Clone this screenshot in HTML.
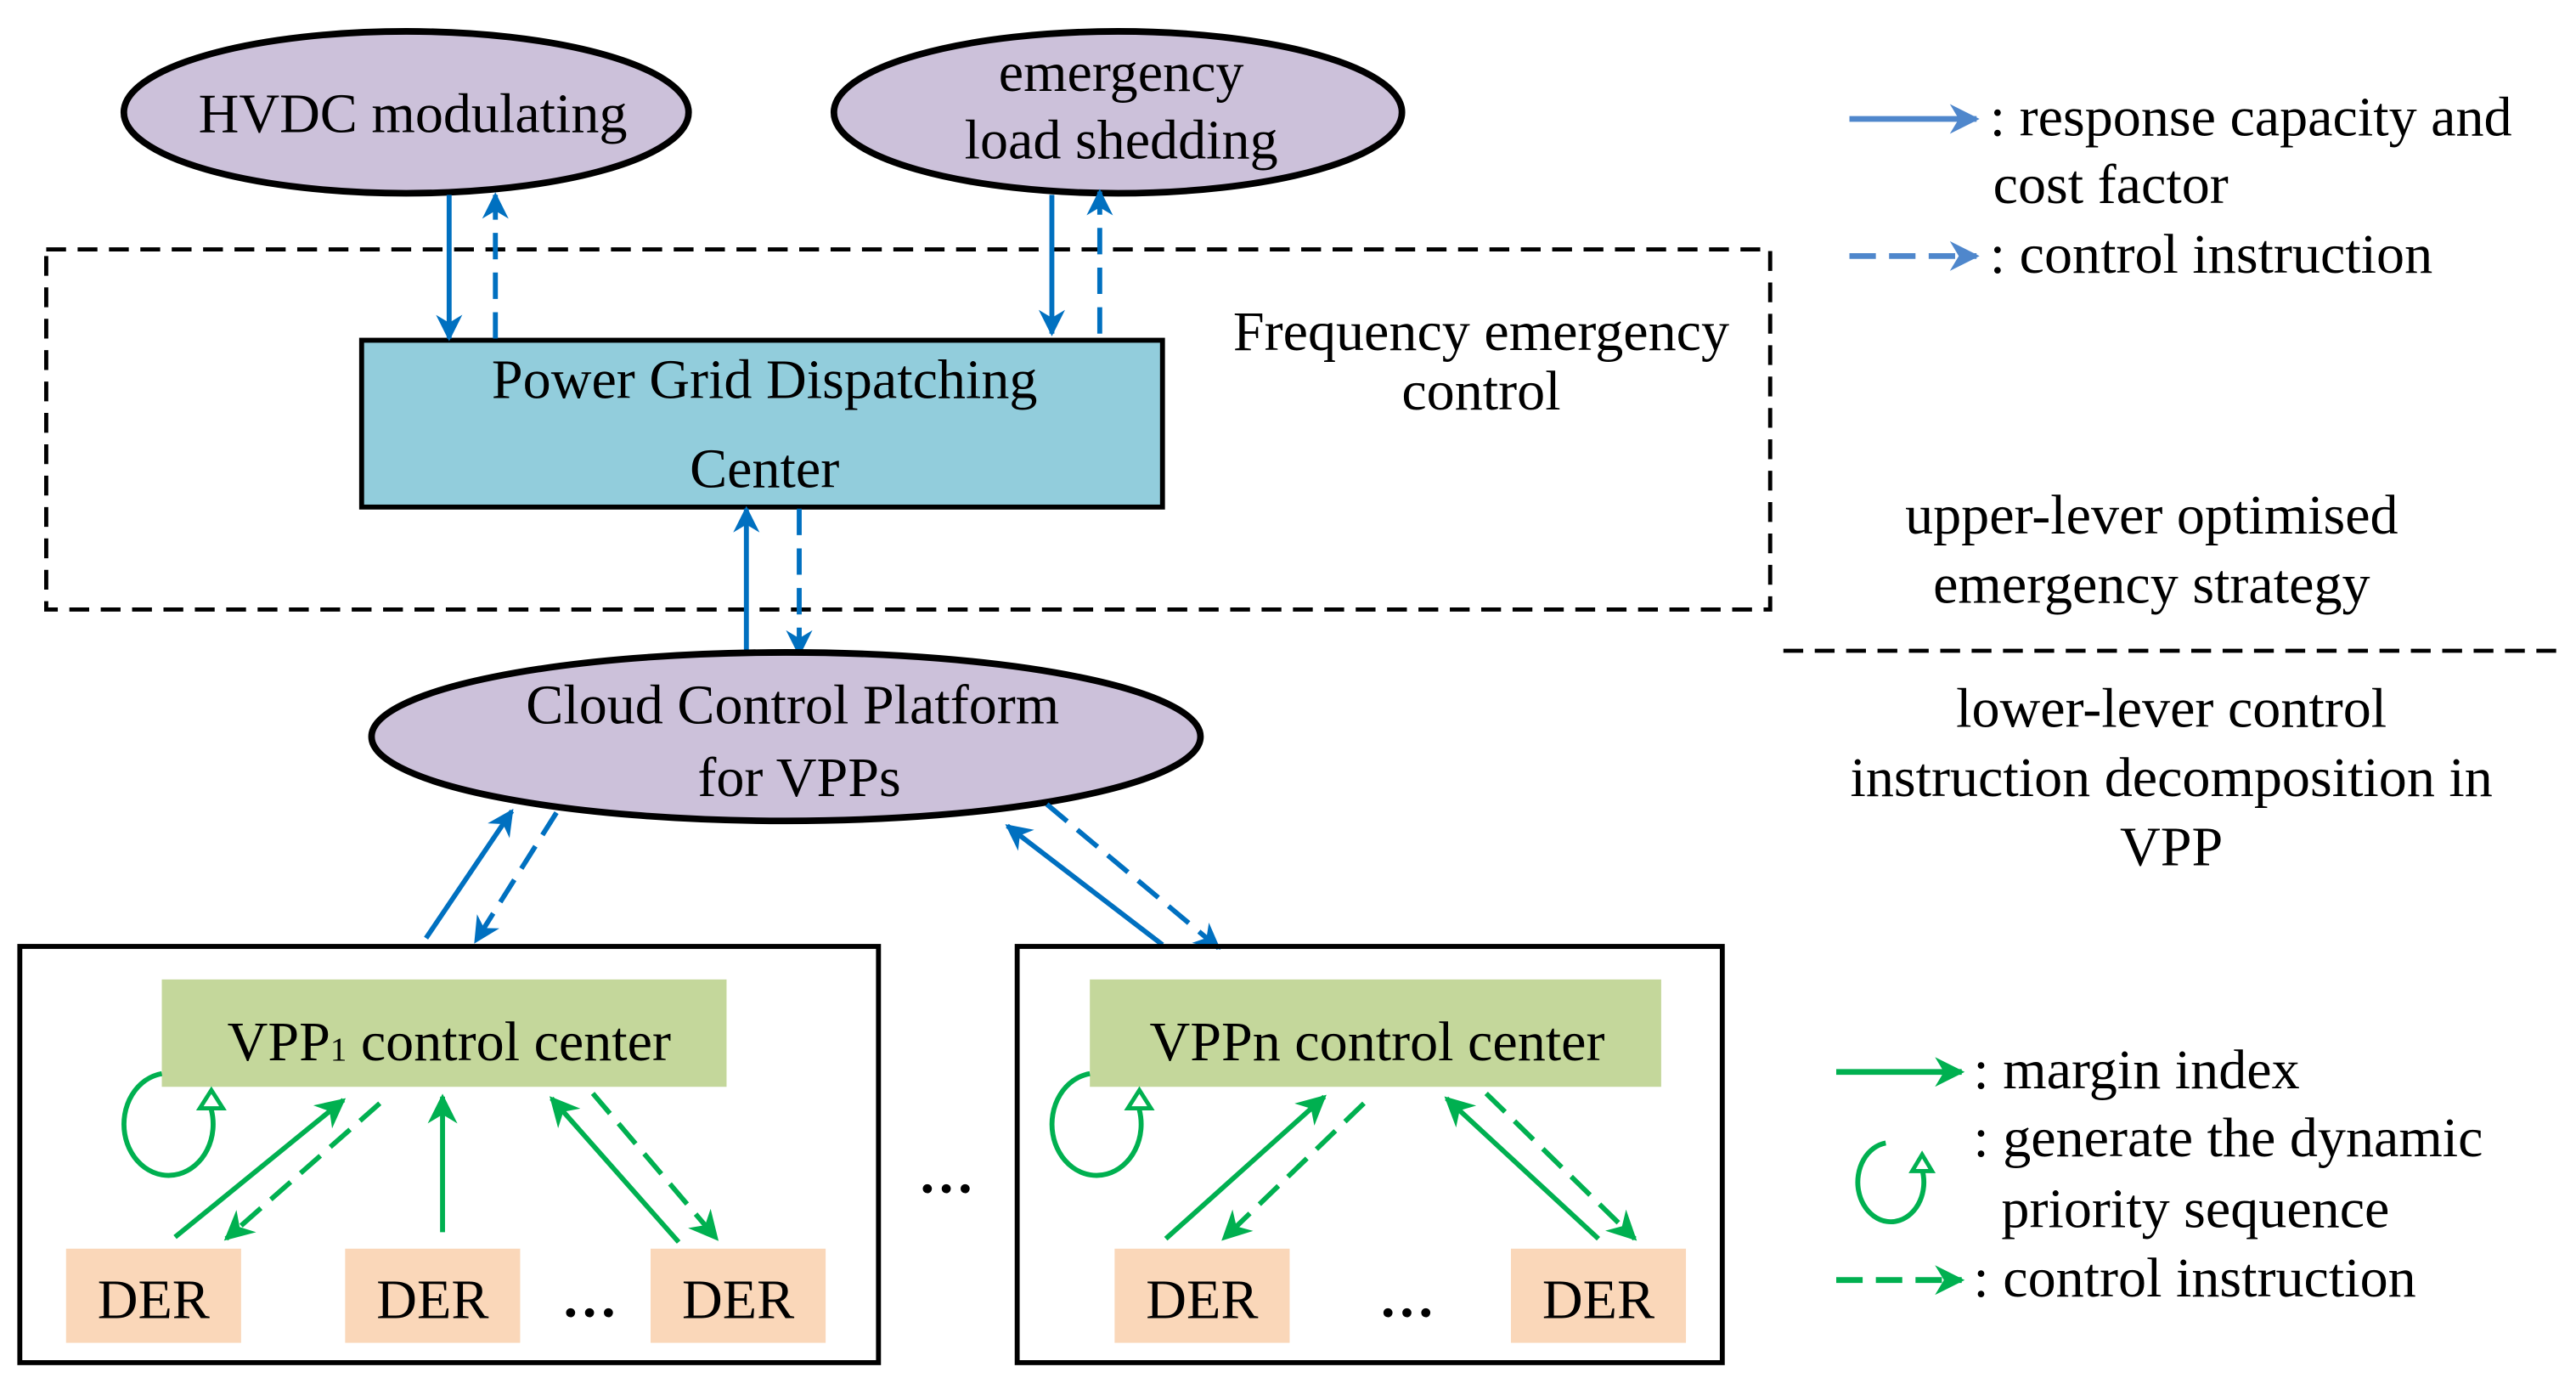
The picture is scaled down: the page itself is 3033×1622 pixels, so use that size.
<!DOCTYPE html>
<html><head><meta charset="utf-8"><style>
html,body{margin:0;padding:0;background:#fff;}
svg{display:block;}
text{font-family:"Liberation Serif",serif;font-size:34px;fill:#000;}
</style></head><body>
<svg width="3033" height="1622" viewBox="0 0 1560 834.3" preserveAspectRatio="none" xmlns="http://www.w3.org/2000/svg">
<defs>
<marker id="bb" viewBox="0 0 10 10" refX="9" refY="5" markerWidth="22" markerHeight="16" orient="auto" markerUnits="userSpaceOnUse"><path d="M0,0 L10,5 L0,10 L3,5 z" fill="#0070c0"/></marker>
<marker id="lb" viewBox="0 0 10 10" refX="9" refY="5" markerWidth="22" markerHeight="18" orient="auto" markerUnits="userSpaceOnUse"><path d="M0,0 L10,5 L0,10 L3,5 z" fill="#4f87cc"/></marker>
<marker id="g" viewBox="0 0 10 10" refX="9" refY="5" markerWidth="24" markerHeight="18" orient="auto" markerUnits="userSpaceOnUse"><path d="M0,0 L10,5 L0,10 L3,5 z" fill="#00b050"/></marker>
</defs>

<rect x="28" y="151" width="1044" height="218" fill="none" stroke="#000" stroke-width="2.5" stroke-dasharray="12,7"/>
<line x1="1080" y1="394" x2="1552" y2="394" stroke="#000" stroke-width="2.5" stroke-dasharray="12,7"/>

<ellipse cx="246" cy="68" rx="171" ry="49" fill="#ccc1da" stroke="#000" stroke-width="4"/>
<text x="250" y="80" text-anchor="middle">HVDC modulating</text>
<ellipse cx="677" cy="68" rx="172" ry="49" fill="#ccc1da" stroke="#000" stroke-width="4"/>
<text x="679" y="55" text-anchor="middle">emergency</text>
<text x="679" y="96" text-anchor="middle">load shedding</text>

<rect x="219" y="206" width="485" height="101" fill="#92cddc" stroke="#000" stroke-width="3"/>
<text x="463" y="241" text-anchor="middle">Power Grid Dispatching</text>
<text x="463" y="295" text-anchor="middle">Center</text>

<g stroke="#0070c0" stroke-width="3">
<line x1="272" y1="118" x2="272" y2="205" marker-end="url(#bb)"/>
<line x1="300" y1="205" x2="300" y2="118" stroke-dasharray="16,8" marker-end="url(#bb)"/>
<line x1="637" y1="118" x2="637" y2="202" marker-end="url(#bb)"/>
<line x1="666" y1="202" x2="666" y2="116" stroke-dasharray="16,8" marker-end="url(#bb)"/>
<line x1="452" y1="396" x2="452" y2="308" marker-end="url(#bb)"/>
<line x1="484" y1="308" x2="484" y2="396" stroke-dasharray="16,8" marker-end="url(#bb)"/>
</g>

<ellipse cx="476" cy="446" rx="251" ry="51" fill="#ccc1da" stroke="#000" stroke-width="4"/>
<text x="480" y="438" text-anchor="middle">Cloud Control Platform</text>
<text x="484" y="482" text-anchor="middle">for VPPs</text>

<g stroke="#0070c0" stroke-width="3">
<line x1="258" y1="568" x2="310" y2="491" marker-end="url(#bb)"/>
<line x1="337" y1="492" x2="288" y2="570" stroke-dasharray="16,8" marker-end="url(#bb)"/>
<line x1="704" y1="572" x2="610" y2="500" marker-end="url(#bb)"/>
<line x1="634" y1="487" x2="738" y2="574" stroke-dasharray="16,8" marker-end="url(#bb)"/>
</g>

<rect x="12" y="573" width="520" height="252" fill="none" stroke="#000" stroke-width="3"/>
<rect x="616" y="573" width="427" height="252" fill="none" stroke="#000" stroke-width="3"/>

<rect x="98" y="593" width="342" height="65" fill="#c4d79b"/>
<text x="272" y="642" text-anchor="middle">VPP<tspan font-size="20">1</tspan> control center</text>
<rect x="660" y="593" width="346" height="65" fill="#c4d79b"/>
<text x="834" y="642" text-anchor="middle">VPPn control center</text>

<rect x="40" y="756" width="106" height="57" fill="#fad7b9"/>
<text x="93" y="798" text-anchor="middle">DER</text>
<rect x="209" y="756" width="106" height="57" fill="#fad7b9"/>
<text x="262" y="798" text-anchor="middle">DER</text>
<rect x="394" y="756" width="106" height="57" fill="#fad7b9"/>
<text x="447" y="798" text-anchor="middle">DER</text>
<rect x="675" y="756" width="106" height="57" fill="#fad7b9"/>
<text x="728" y="798" text-anchor="middle">DER</text>
<rect x="915" y="756" width="106" height="57" fill="#fad7b9"/>
<text x="968" y="798" text-anchor="middle">DER</text>
<text x="357" y="797" text-anchor="middle" font-weight="bold">…</text>
<text x="852" y="797" text-anchor="middle" font-weight="bold">…</text>
<text x="573" y="722" text-anchor="middle" font-weight="bold">…</text>

<g stroke="#00b050" stroke-width="3" fill="none">
<line x1="106" y1="749" x2="208" y2="666" marker-end="url(#g)"/>
<line x1="230" y1="668" x2="137" y2="750" stroke-dasharray="16,8" marker-end="url(#g)"/>
<line x1="268" y1="746" x2="268" y2="664" marker-end="url(#g)"/>
<line x1="411" y1="752" x2="334" y2="665" marker-end="url(#g)"/>
<line x1="359" y1="662" x2="434" y2="750" stroke-dasharray="16,8" marker-end="url(#g)"/>
<path d="M98,650 A27,31 0 1 0 128,672"/>
<path d="M660,650 A27,31 0 1 0 690,672"/>
<line x1="706" y1="750" x2="802" y2="664" marker-end="url(#g)"/>
<line x1="826" y1="668" x2="741" y2="750" stroke-dasharray="16,8" marker-end="url(#g)"/>
<line x1="968" y1="750" x2="876" y2="665" marker-end="url(#g)"/>
<line x1="900" y1="662" x2="990" y2="750" stroke-dasharray="16,8" marker-end="url(#g)"/>
</g>
<path d="M128,660 L121,671 L135,671 z" fill="#fff" stroke="#00b050" stroke-width="2.5"/>
<path d="M690,660 L683,671 L697,671 z" fill="#fff" stroke="#00b050" stroke-width="2.5"/>

<text x="897" y="212" text-anchor="middle">Frequency emergency</text>
<text x="897" y="248" text-anchor="middle">control</text>
<text x="1303" y="323" text-anchor="middle">upper-lever optimised</text>
<text x="1303" y="365" text-anchor="middle">emergency strategy</text>
<text x="1315" y="440" text-anchor="middle">lower-lever control</text>
<text x="1315" y="482" text-anchor="middle">instruction decomposition in</text>
<text x="1315" y="524" text-anchor="middle">VPP</text>

<line x1="1120" y1="72" x2="1197" y2="72" stroke="#4f87cc" stroke-width="3.5" marker-end="url(#lb)"/>
<text x="1205" y="82" font-size="30">: response capacity and</text>
<text x="1207" y="123" font-size="30">cost factor</text>
<line x1="1120" y1="155" x2="1197" y2="155" stroke="#4f87cc" stroke-width="3.5" stroke-dasharray="16,8" marker-end="url(#lb)"/>
<text x="1205" y="165" font-size="30">: control instruction</text>

<line x1="1112" y1="649" x2="1188" y2="649" stroke="#00b050" stroke-width="3.5" marker-end="url(#g)"/>
<text x="1195" y="659" font-size="30">: margin index</text>
<path d="M1142,692 A20,24 0 1 0 1164,708" fill="none" stroke="#00b050" stroke-width="3"/>
<path d="M1164,699 L1158,709 L1170,709 z" fill="#fff" stroke="#00b050" stroke-width="2.5"/>
<text x="1195" y="700" font-size="30">: generate the dynamic</text>
<text x="1212" y="743" font-size="30">priority sequence</text>
<line x1="1112" y1="775" x2="1188" y2="775" stroke="#00b050" stroke-width="3.5" stroke-dasharray="16,8" marker-end="url(#g)"/>
<text x="1195" y="785" font-size="30">: control instruction</text>
</svg>
</body></html>
